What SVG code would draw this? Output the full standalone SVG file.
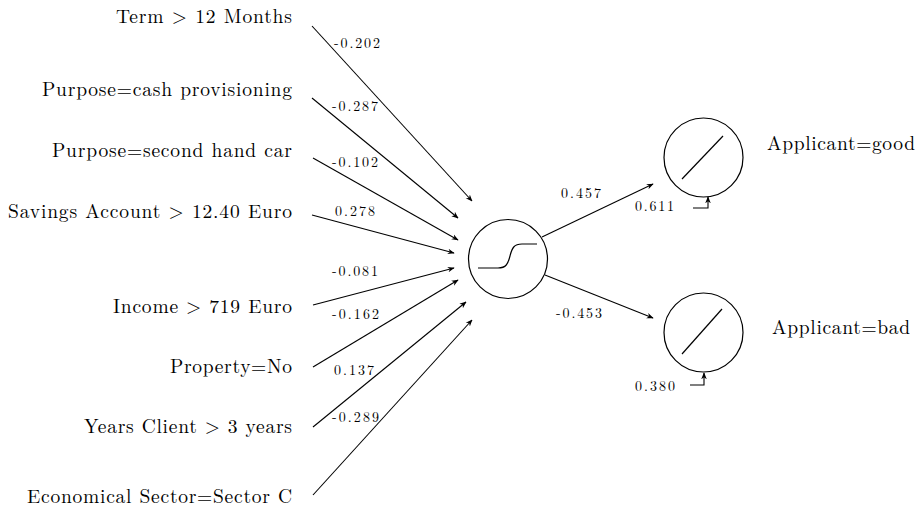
<svg xmlns="http://www.w3.org/2000/svg" width="917" height="518" viewBox="0 0 917 518">
  <defs>
    <marker id="arrow" viewBox="0 0 10 10" refX="9" refY="5" markerWidth="7" markerHeight="7" markerUnits="userSpaceOnUse" orient="auto">
      <path d="M0,1 L10,5 L0,9 L3,5 Z" fill="#000"/>
    </marker>
  </defs>
  <style>
    .lbl { font-size: 19.5px; fill: #000; }
    .in { text-anchor: end; }
    .w { font-size: 14px; fill: #000; }
    .edge { stroke: #000; stroke-width: 1.1; fill: none; marker-end: url(#arrow); }
    .node { stroke: #000; stroke-width: 1.2; fill: #fff; }
    .glyph { stroke: #000; stroke-width: 1.2; fill: none; }
  </style>
  <rect width="917" height="518" fill="#fff"/>

  <!-- weighted connections -->
  <g id="connectors" font-family="'Latin Modern Roman', 'Liberation Serif', serif">
    <line class="edge" x1="312" y1="26" x2="472" y2="201"/>
    <line class="edge" x1="312" y1="98" x2="458" y2="218"/>
    <line class="edge" x1="313" y1="158" x2="458" y2="240"/>
    <line class="edge" x1="312" y1="215" x2="454" y2="253"/>
    <line class="edge" x1="313" y1="305" x2="454" y2="268"/>
    <line class="edge" x1="313" y1="367" x2="458" y2="280"/>
    <line class="edge" x1="313" y1="427" x2="466" y2="302"/>
    <line class="edge" x1="313" y1="495" x2="472" y2="320"/>
    <line class="edge" x1="542" y1="237" x2="653" y2="184"/>
    <line class="edge" x1="545" y1="275" x2="653" y2="318"/>
    <!-- bias inputs -->
    <polyline class="edge" points="693,208 708,208 708,197"/>
    <polyline class="edge" points="690,385 704,385 704,373"/>

    <text class="w" x="334" y="48" textLength="46">-0.202</text>
    <text class="w" x="332" y="111" textLength="46">-0.287</text>
    <text class="w" x="332" y="167" textLength="46">-0.102</text>
    <text class="w" x="335" y="216" textLength="40">0.278</text>
    <text class="w" x="332" y="276" textLength="46">-0.081</text>
    <text class="w" x="332" y="319" textLength="47">-0.162</text>
    <text class="w" x="334" y="375" textLength="40">0.137</text>
    <text class="w" x="332" y="422" textLength="47">-0.289</text>
    <text class="w" x="561" y="198" textLength="40">0.457</text>
    <text class="w" x="556" y="318" textLength="46">-0.453</text>
    <text class="w" x="635" y="211" textLength="39">0.611</text>
    <text class="w" x="635" y="391" textLength="40">0.380</text>
  </g>

  <!-- input attributes -->
  <g font-family="'Latin Modern Roman', 'Liberation Serif', serif">
    <g id="in-term"><text class="lbl in" x="292" y="23" textLength="176">Term &gt; 12 Months</text></g>
    <g id="in-cash"><text class="lbl in" x="292" y="96" textLength="250">Purpose=cash provisioning</text></g>
    <g id="in-car"><text class="lbl in" x="292" y="157" textLength="240">Purpose=second hand car</text></g>
    <g id="in-savings"><text class="lbl in" x="292" y="218" textLength="284">Savings Account &gt; 12.40 Euro</text></g>
    <g id="in-income"><text class="lbl in" x="292" y="313" textLength="179">Income &gt; 719 Euro</text></g>
    <g id="in-property"><text class="lbl in" x="292" y="373" textLength="122">Property=No</text></g>
    <g id="in-years"><text class="lbl in" x="292" y="433" textLength="208">Years Client &gt; 3 years</text></g>
    <g id="in-sector"><text class="lbl in" x="292" y="503" textLength="265">Economical Sector=Sector C</text></g>
  </g>

  <!-- hidden unit with sigmoid activation -->
  <g id="hidden">
    <circle class="node" cx="508" cy="259" r="39.5"/>
    <path class="glyph" d="M478,268 L498,268 C506,268 508,264 510,256 C512,248 514,244 522,244 L537,244"/>
  </g>

  <!-- output units with linear activation -->
  <g id="out-good" font-family="'Latin Modern Roman', 'Liberation Serif', serif">
    <circle class="node" cx="703.5" cy="157.5" r="39.5"/>
    <line class="glyph" x1="682" y1="179" x2="723" y2="136"/>
    <text class="lbl" x="767" y="150" textLength="148">Applicant=good</text>
  </g>
  <g id="out-bad" font-family="'Latin Modern Roman', 'Liberation Serif', serif">
    <circle class="node" cx="703.5" cy="332.5" r="39.5"/>
    <line class="glyph" x1="682" y1="354" x2="722" y2="309"/>
    <text class="lbl" x="772" y="334" textLength="138">Applicant=bad</text>
  </g>
</svg>
